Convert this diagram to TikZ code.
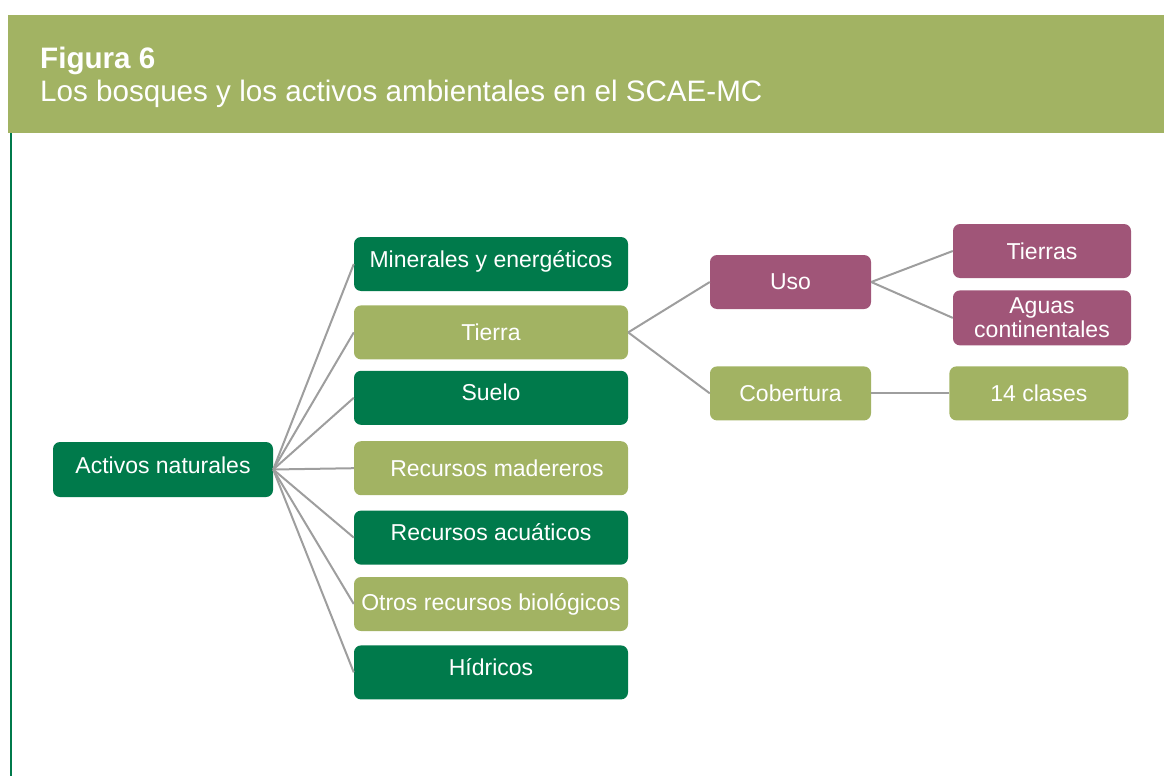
\documentclass[tikz,border=0pt]{standalone}
\usepackage{fontspec}
\setmainfont{Liberation Sans}
\usetikzlibrary{positioning}
\definecolor{dark_green}{RGB}{0,122,75}
\definecolor{olive_green}{RGB}{162,179,99}
\definecolor{plum_purple}{RGB}{160,85,120}
\definecolor{line_grey}{RGB}{158,158,158}

\begin{document}
\begin{tikzpicture}[x=1pt, y=-1pt,
    box/.style={rectangle, rounded corners=7pt, text=white, inner sep=0pt, align=center,
                font=\fontsize{23}{24}\selectfont},
    assetbox/.style={box, minimum width=274pt, minimum height=54pt},
    raisedtext/.style={text height=17pt, text depth=11pt},
    connector/.style={draw=line_grey, line width=2pt}]

    \useasboundingbox (0,0) rectangle (1164,776);

    % --- Begin Header ---
    \fill[olive_green] (8,15) rectangle (1164,133);
    \node [anchor=base west, inner sep=0pt, text=white, font=\fontsize{29.6}{30}\selectfont\bfseries] (FigureNumber) at (40,68) {Figura 6};
    \node [anchor=base west, inner sep=0pt, text=white, font=\fontsize{29.6}{30}\selectfont] (FigureTitle) at (40,101) {Los bosques y los activos ambientales en el SCAE-MC};
    \draw[dark_green, line width=2pt] (10.5,133) -- (10.5,776);
    % --- End Header ---

    % --- Begin Root Node ---
    \node [box, fill=dark_green, minimum width=220pt, minimum height=55pt, raisedtext, text depth=9pt] (ActivosNaturales) at (163,469.5) {Activos naturales};
    % --- End Root Node ---

    % --- Begin Assets Column ---
    \node [assetbox, fill=dark_green, raisedtext] (Minerales) at (491,264) {Minerales y energéticos};
    \node [assetbox, fill=olive_green, below=14pt of Minerales] (Tierra) {Tierra};
    \node [assetbox, fill=dark_green, raisedtext, below=11pt of Tierra] (Suelo) {Suelo};
    \node [assetbox, fill=olive_green, below=16pt of Suelo] (RecursosMadereros) {\hspace{12pt}Recursos madereros};
    \node [assetbox, fill=dark_green, raisedtext, below=15pt of RecursosMadereros] (RecursosAcuaticos) {Recursos acuáticos};
    \node [assetbox, fill=olive_green, below=12pt of RecursosAcuaticos] (OtrosRecursos) {Otros recursos biológicos};
    \node [assetbox, fill=dark_green, raisedtext, below=14pt of OtrosRecursos] (Hidricos) {Hídricos};
    % --- End Assets Column ---

    % --- Begin Land Nodes ---
    \node [box, fill=plum_purple, minimum width=161pt, minimum height=54pt] (Uso) at (790.5,282) {Uso};
    \node [box, fill=olive_green, minimum width=161pt, minimum height=54pt, below=57pt of Uso] (Cobertura) {Cobertura};
    \node [box, fill=plum_purple, minimum width=178pt, minimum height=54pt] (Tierras) at (1042,251) {Tierras};
    \node [box, fill=plum_purple, minimum width=178pt, minimum height=55pt, below=12pt of Tierras] (AguasContinentales) {Aguas\\continentales};
    \node [box, fill=olive_green, minimum width=179pt, minimum height=54pt, right=78pt of Cobertura] (CatorceClases) {14 clases};
    % --- End Land Nodes ---

    % Connect the nodes.
    \foreach \asset in {Minerales, Tierra, Suelo, RecursosMadereros, RecursosAcuaticos, OtrosRecursos, Hidricos}
        \draw[connector] (ActivosNaturales.east) -- (\asset.west);
    \draw[connector] (Tierra.east) -- (Uso.west);
    \draw[connector] (Tierra.east) -- (Cobertura.west);
    \draw[connector] (Uso.east) -- (Tierras.west);
    \draw[connector] (Uso.east) -- (AguasContinentales.west);
    \draw[connector] (Cobertura.east) -- (CatorceClases.west);

\end{tikzpicture}
\end{document}
